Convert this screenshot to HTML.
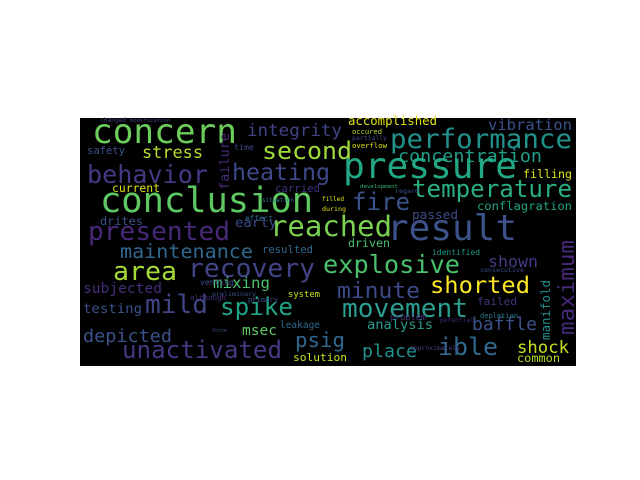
<!DOCTYPE html>
<html><head><meta charset="utf-8"><style>
html,body{margin:0;padding:0;background:#fff;width:640px;height:480px;overflow:hidden}
svg text{font-family:"DejaVu Sans Mono","Liberation Mono",monospace}
</style></head><body>
<svg id="chart" width="640" height="480" viewBox="0 0 640 480">
<rect x="80" y="118" width="496" height="248" fill="#000"/>
<g id="words"></g>
</svg>
<script>
const words=["concern","integrity","safety","stress","second","behavior","heating","current","carried","conclusion","drites","early","presented","reached","accomplished","vibration","performance","concentration","pressure","filling","temperature","development","fire","conflagration","passed","result","maintenance","resulted","area","recovery","subjected","mixing","system","mild","testing","spike","leakage","depicted","msec","force","unactivated","psig","solution","driven","identified","explosive","shown","shorted","minute","failed","movement","analysis","baffle","place","ible","shock","common","failure","maximum","manifold","occured","partially","overflow","regard","filled","during","venting","preliminary","although","primary","effect","situation","time","changed","modification","depletion","consecutive","problem","potential","approximately"];
const xs=[92,247,87,142,262,87,232,112,275,100,100,235,88,270,348,488,390,398,343,523,412,360,352,477,412,387,120,262,113,188,83,213,288,145,83,220,280,83,242,212,122,295,293,348,432,323,488,430,337,477,342,367,472,362,438,517,517,229,574,550,352,352,352,395,322,322,200,212,190,248,245,262,234,100,130,480,480,390,440,410];
const ys=[143,136,154,158,159,183,180,192,192,212,225,227,240,236,125,130,148,162,178,178,197,188,210,210,219,240,258,253,280,277,293,288,297,313,313,315,328,342,335,332,358,347,361,247,255,273,267,293,298,305,317,329,330,357,355,353,362,190,335,340,134,140,148,193,201,211,285,296,300,302,221,202,150,122,122,318,272,320,322,350];
const ws=[145,95,38,61,90,121,98,48,45,213,43,42,142,122,89,84,182,144,174,49,160,38,58,95,46,130,133,51,64,127,79,57,32,63,59,73,40,89,35,15,160,50,54,42,48,137,50,100,83,40,126,66,65,55,60,52,43,57,95,60,30,35,35,24,22,24,34,44,36,30,28,32,20,26,40,38,44,36,34,50];
const colors=["#6ccd5a","#414487","#3b528b","#b5de2b","#a0da39","#443983","#3e4989","#dfe318","#46327e","#5ec962","#3b528b","#3e4989","#482878","#7ad151","#dfe318","#3b528b","#21918c","#1f9e89","#22a884","#dfe318","#2ab07f","#35b779","#3b528b","#21a585","#3e4989","#3b528b","#31688e","#31688e","#a5db36","#414487","#472d7b","#4ac16d","#c8e020","#414487","#3b528b","#20a486","#31688e","#3b528b","#5ec962","#3b528b","#443983","#31688e","#c8e020","#4ac16d","#1f9e89","#4ac16d","#443983","#fde725","#3e4989","#46327e","#2a9d8f","#2a9d8f","#3b528b","#21918c","#31688e","#c8e020","#b5de2b","#482878","#482878","#21918c","#b5de2b","#414487","#dfe318","#3b528b","#dfe318","#dfe318","#3e4989","#3b528b","#46327e","#3b528b","#31688e","#2a788e","#3e4989","#414487","#414487","#2a788e","#3e4989","#46327e","#482878","#414487"];
const vertical=["failure","maximum","manifold"];
const g=document.getElementById('words');
const NS='http://www.w3.org/2000/svg';
for(let i=0;i<words.length;i++){
  const t=document.createElementNS(NS,'text');
  
  
  const size=ws[i]/(0.602*words[i].length)*0.98;
  t.setAttribute('x',xs[i]);t.setAttribute('y',ys[i]);
  t.setAttribute('font-size',size.toFixed(1));
  t.setAttribute('fill',colors[i]);
  t.setAttribute('textLength',ws[i]);
  t.setAttribute('lengthAdjust','spacingAndGlyphs');
  if(vertical.includes(words[i])){
    t.setAttribute('transform','rotate(-90 '+xs[i]+' '+ys[i]+')');
  }
  t.textContent=words[i];
  g.appendChild(t);
}
</script>
</body></html>
